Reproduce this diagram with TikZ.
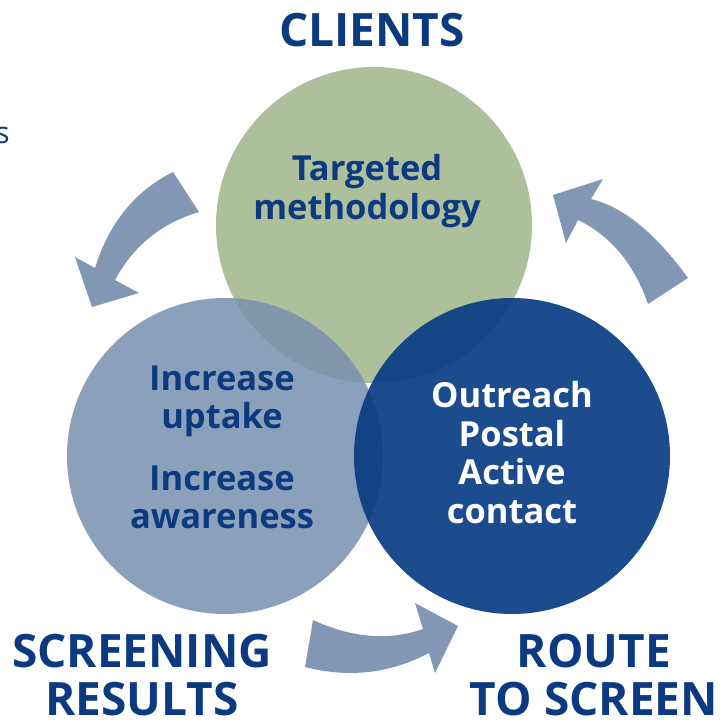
\documentclass[tikz,border=0pt]{standalone}
\usepackage{fontspec}
\setmainfont{Open Sans}
\definecolor{navy}{RGB}{12,58,128}
\definecolor{cgreen}{RGB}{173,192,155}
\definecolor{cleft}{RGB}{119,143,174}
\definecolor{cright}{RGB}{9,60,132}
\definecolor{carrow}{RGB}{129,151,179}
\begin{document}
\begin{tikzpicture}[x=1pt,y=-1pt,
  venn/.style={circle,minimum size=316pt,inner sep=0pt,draw=none},
  biglabel/.style={text=navy,font=\bfseries\fontsize{46}{48}\selectfont,align=center,inner sep=0pt},
  innertext/.style={text=navy,font=\bfseries\fontsize{34.5}{38.5}\selectfont,align=center,inner sep=0pt},
  arrowshape/.style={fill=carrow,draw=none}]
\useasboundingbox (0,0) rectangle (726,721);
% circles
\node[venn,fill=cgreen] (clientsC) at (374,225) {};
\node[venn,fill=cleft,fill opacity=0.85] (resultsC) at (225,456) {};
\node[venn,fill=cright,fill opacity=0.92] (routeC) at (512,456) {};
% arrows
\fill[arrowshape] (173,172) .. controls (135,191) and (109,223) .. (95,268)
  -- (75,257) -- (92,307) -- (139,293) -- (115,280)
  .. controls (134,245) and (162,223) .. (199,212) -- cycle;
\fill[arrowshape] (591,199) .. controls (624,207) and (656,234) .. (688,278)
  -- (648,304) .. controls (634,264) and (611,236) .. (578,220)
  -- (566,243) -- (553,195) -- (603,179) -- cycle;
\fill[arrowshape] (313,620) .. controls (352,638) and (389,641) .. (423,629)
  -- (415,603) -- (458,626) -- (435,673) -- (429,653)
  .. controls (389,674) and (348,678) .. (305,667) -- cycle;
% labels
\node[biglabel] (clients) at (372,30) {CLIENTS};
\node[biglabel] (screening) at (142,675.5) {SCREENING\\RESULTS};
\node[biglabel] (route) at (594,675.5) {ROUTE\\TO SCREEN};
\node[innertext] (target) at (367,191) {Targeted\\methodology};
\node[innertext] (increase) at (222,447.5) {Increase\\uptake\\[23pt]Increase\\awareness};
\node[innertext,text=white] (outreach) at (512,452.5) {Outreach\\Postal\\Active\\contact};
\node[text=navy,font=\fontsize{30}{32}\selectfont,inner sep=0pt,anchor=base east] (frag) at (10,143) {s};
\end{tikzpicture}
\end{document}
